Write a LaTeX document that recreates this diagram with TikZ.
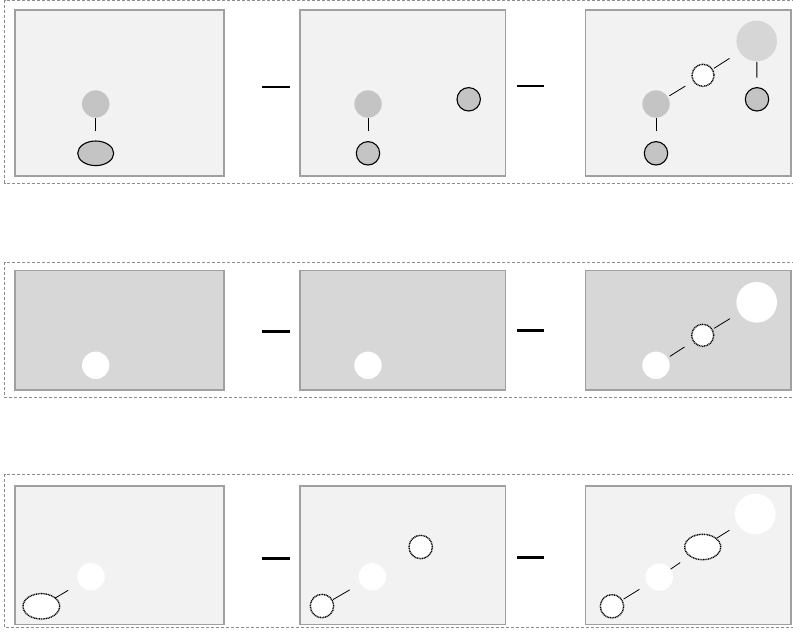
\documentclass[tikz,border=0pt]{standalone}
\usetikzlibrary{shapes.geometric}
\definecolor{panellight}{HTML}{F1F2F1}
\definecolor{paneldark}{HTML}{D7D7D7}
\definecolor{panelborder}{HTML}{A0A0A0}
\definecolor{grayfill}{HTML}{C4C4C4}
\definecolor{bigfill}{HTML}{D6D6D6}
\definecolor{framegray}{HTML}{8C8C8C}
\tikzset{
  frame/.style={draw=framegray, line width=0.9pt, dash pattern=on 3pt off 2pt},
  panel/.style={draw=panelborder, line width=1.2pt},
  minus/.style={line width=2.6pt, black},
  conn/.style={line width=1pt, black},
  thinconn/.style={line width=0.8pt, black},
  dot/.style={circle, inner sep=0pt, outer sep=0pt, minimum size=27.4pt},
  graydot/.style={dot, fill=grayfill},
  whitedot/.style={dot, fill=white},
  bigdot/.style={circle, inner sep=0pt, outer sep=0pt, minimum size=40.6pt},
  ring/.style={circle, inner sep=0pt, outer sep=0pt, minimum size=23.4pt, draw=black, line width=1.1pt, fill=grayfill},
  dotring/.style={circle, inner sep=0pt, outer sep=0pt, minimum size=22pt, draw=black, line width=1.4pt, dash pattern=on 1pt off 0.7pt, fill=white},
  dotringB/.style={dotring, minimum size=23.4pt},
  grayoval/.style={ellipse, inner sep=0pt, outer sep=0pt, minimum width=36pt, minimum height=24.6pt, draw=black, line width=1.1pt, fill=grayfill},
  dotoval/.style={ellipse, inner sep=0pt, outer sep=0pt, minimum width=36.6pt, minimum height=25.4pt, draw=black, line width=1.4pt, dash pattern=on 1pt off 0.7pt, fill=white}
}
\begin{document}
\begin{tikzpicture}[x=1pt,y=-1pt]
\useasboundingbox (0,0) rectangle (793,638);
\fill[white] (0,0) rectangle (793,638);
% outer dashed frames
\draw[frame] (805,0.8) -- (4.5,0.8) -- (4.5,183) -- (805,183);
\draw[frame] (805,262) -- (4.5,262) -- (4.5,397) -- (805,397);
\draw[frame] (805,474.5) -- (4.5,474.5) -- (4.5,627.3) -- (805,627.3);
% panels row 1
\filldraw[panel, fill=panellight] (15,10) rectangle (224,176);
\filldraw[panel, fill=panellight] (300,10) rectangle (505.5,176);
\filldraw[panel, fill=panellight] (585.5,10) rectangle (791,176);
% panels row 2
\filldraw[panel, fill=paneldark] (15,270.5) rectangle (224,390);
\filldraw[panel, fill=paneldark] (300,270.5) rectangle (505.5,390);
\filldraw[panel, fill=paneldark] (585.5,270.5) rectangle (791,390);
% panels row 3
\filldraw[panel, fill=panellight] (15,486) rectangle (224,624.5);
\filldraw[panel, fill=panellight] (300,486) rectangle (505.5,624.5);
\filldraw[panel, fill=panellight] (585.5,486) rectangle (791,624.5);
% minus signs
\draw[minus] (262,87) -- (290,87);
\draw[minus] (517,86) -- (544,86);
\draw[minus] (262,331.7) -- (290,331.7);
\draw[minus] (517,330.7) -- (544,330.7);
\draw[minus] (262,558.7) -- (290,558.7);
\draw[minus] (517,557.7) -- (544,557.7);

% ---------- row 1 ----------
\node[graydot] (a1) at (95.7,104) {};
\node[grayoval] (a1e) at (95.7,153.3) {};
\draw[conn, shorten <=0.5pt, shorten >=10pt] (a1) -- (a1e);

\node[graydot] (b1) at (368,104) {};
\node[ring] (b1r) at (368,153.3) {};
\node[ring] (b1s) at (468.7,99.3) {};
\draw[conn, shorten <=0.5pt, shorten >=10.5pt] (b1) -- (b1r);

\node[graydot] (c1) at (656,104) {};
\node[ring] (c1r) at (656,153.3) {};
\node[dotring] (c1d) at (703,75.3) {};
\node[bigdot, fill=bigfill] (c1b) at (756.7,41) {};
\node[ring] (c1s) at (757,99.3) {};
\draw[conn, shorten <=0.5pt, shorten >=10.5pt] (c1) -- (c1r);
\draw[conn, shorten <=0.5pt, shorten >=10pt] (c1b) -- (c1s);
\draw[thinconn, shorten <=2pt, shorten >=9.7pt] (c1) -- (c1d);
\draw[thinconn, shorten <=2pt, shorten >=12pt] (c1d) -- (c1b);

% ---------- row 2 ----------
\node[whitedot] (a2) at (95.7,365.3) {};
\node[whitedot] (b2) at (368,365.3) {};
\node[whitedot] (c2) at (656,365.3) {};
\node[dotring] (c2d) at (702.7,335.3) {};
\node[bigdot, fill=white] (c2b) at (756.7,302.3) {};
\draw[thinconn, shorten <=2.7pt, shorten >=10.6pt] (c2) -- (c2d);
\draw[thinconn, shorten <=2.3pt, shorten >=11pt] (c2d) -- (c2b);

% ---------- row 3 ----------
\node[whitedot] (a3) at (91,576.7) {};
\node[dotoval] (a3e) at (41.3,606.3) {};
\draw[thinconn, shorten <=0pt, shorten >=12.8pt] (a3e) -- (a3);

\node[whitedot] (b3) at (372.3,576.7) {};
\node[dotringB] (b3d) at (322,606) {};
\node[dotringB] (b3u) at (420.7,547) {};
\draw[thinconn, shorten <=1pt, shorten >=12.4pt] (b3d) -- (b3);

\node[dotringB] (c3d) at (612,606.3) {};
\node[whitedot] (c3) at (659.3,577) {};
\node[dotoval, minimum width=36pt] (c3e) at (702.7,547) {};
\node[bigdot, fill=white] (c3b) at (755.3,514) {};
\draw[thinconn, shorten <=2pt, shorten >=9.7pt] (c3d) -- (c3);
\draw[thinconn, shorten <=0pt, shorten >=11.7pt] (c3) -- (c3e);
\draw[thinconn, shorten <=0.6pt, shorten >=10.2pt] (c3e) -- (c3b);
\end{tikzpicture}
\end{document}
